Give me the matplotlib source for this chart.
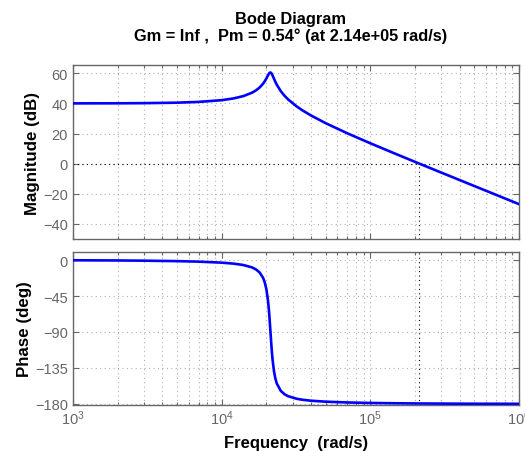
import numpy as np
import matplotlib
matplotlib.use("Agg")
import matplotlib.pyplot as plt
from matplotlib.ticker import LogLocator, NullFormatter, FixedLocator

plt.rcParams["font.family"] = ["Liberation Sans", "DejaVu Sans"]

# frequency response (rad/s, dB, deg)
freq = [1e3, 2e3, 3e3, 5e3, 7e3, 1e4, 1.2e4, 1.4e4, 1.6e4, 1.7e4, 1.8e4, 1.9e4,
        1.95e4, 2.0e4, 2.05e4, 2.08e4, 2.1e4, 2.13e4, 2.16e4, 2.18e4, 2.2e4,
        2.25e4, 2.3e4, 2.35e4, 2.5e4, 2.65e4, 2.8e4, 3.2e4, 3.5e4, 4e4, 5e4,
        7e4, 1e5, 1.5e5, 2e5, 3e5, 5e5, 7e5, 1e6]
mag_db = [40.02, 40.08, 40.17, 40.49, 40.99, 42.15, 43.29, 44.86, 47.10, 48.62,
          50.55, 53.12, 54.74, 56.62, 58.66, 59.76, 60.28, 60.54, 60.05, 59.39,
          58.57, 56.33, 54.22, 52.37, 48.10, 45.03, 42.63, 37.96, 35.35, 31.93,
          26.91, 20.17, 13.54, 6.27, 1.19, -5.91, -14.81, -20.66, -26.86]
phase_deg = [-0.25, -0.51, -0.77, -1.34, -1.98, -3.24, -4.44, -6.21, -9.20,
             -11.68, -15.53, -22.31, -28.00, -36.72, -50.83, -63.18, -73.21,
             -90.0, -106.57, -116.28, -124.54, -139.40, -148.55, -154.48,
             -163.71, -167.95, -170.37, -173.59, -174.81, -176.00, -177.20,
             -178.19, -178.80, -179.22, -179.42, -179.62, -179.77, -179.84,
             -179.89]

w_cross = 2.14e5
mag_ticks = [-40, -20, 0, 20, 40, 60]
phase_ticks = [-180, -135, -90, -45, 0]

gray = "#666666"
dots = (0, (1, 3))
fig = plt.figure(figsize=(5.25, 4.52), dpi=100)
ax1 = fig.add_axes([0.139, 0.469, 0.8496, 0.385])
ax2 = fig.add_axes([0.139, 0.1024, 0.8496, 0.3386])

for ax in (ax1, ax2):
    ax.set_xscale("log")
    ax.set_xlim(1e3, 1e6)
    ax.xaxis.set_major_locator(LogLocator(base=10))
    ax.xaxis.set_minor_locator(LogLocator(base=10, subs=np.arange(2, 10)))
    ax.xaxis.set_minor_formatter(NullFormatter())
    ax.grid(True, which="major", color="#b0b0b0", linestyle=dots, linewidth=0.8)
    ax.grid(True, which="minor", axis="x", color="#b0b0b0", linestyle=dots, linewidth=0.8)
    ax.tick_params(which="both", direction="in", top=True, right=True,
                   colors=gray, labelsize=10.5, width=0.8)
    ax.tick_params(which="major", length=4)
    ax.tick_params(which="minor", length=2)
    for s in ax.spines.values():
        s.set_color(gray)
        s.set_linewidth(1.0)

ax1.plot(freq, mag_db, color="blue", linewidth=1.9, zorder=3)
ax1.set_ylim(-50, 65.5)
ax1.yaxis.set_major_locator(FixedLocator(mag_ticks))
ax1.set_xticklabels([])
ax1.axhline(0, color="black", linestyle=dots, linewidth=0.8, zorder=2)
ax1.plot([w_cross, w_cross], [-50, 0], color="black", linestyle=dots, linewidth=0.8, zorder=2)
ax1.set_ylabel("Magnitude (dB)", fontsize=12.2, fontweight="bold", labelpad=2)

ax2.plot(freq, phase_deg, color="blue", linewidth=1.9, zorder=3)
ax2.set_ylim(-181, 10.5)
ax2.yaxis.set_major_locator(FixedLocator(phase_ticks))
ax2.axvline(w_cross, color="black", linestyle=dots, linewidth=0.8, zorder=2)
ax2.tick_params(axis="x", pad=2.5)
ax2.set_ylabel("Phase (deg)", fontsize=12.2, fontweight="bold", labelpad=2)
ax2.set_xlabel("Frequency  (rad/s)", fontsize=12, fontweight="bold", labelpad=6)

fig.text(0.553, 0.956, "Bode Diagram", ha="center", va="center",
         fontsize=11.8, fontweight="bold")
fig.text(0.553, 0.92, "Gm = Inf ,  Pm = 0.54\u00b0 (at 2.14e+05 rad/s)", ha="center",
         va="center", fontsize=11.8, fontweight="bold")

fig.savefig("out.png", dpi=100)
